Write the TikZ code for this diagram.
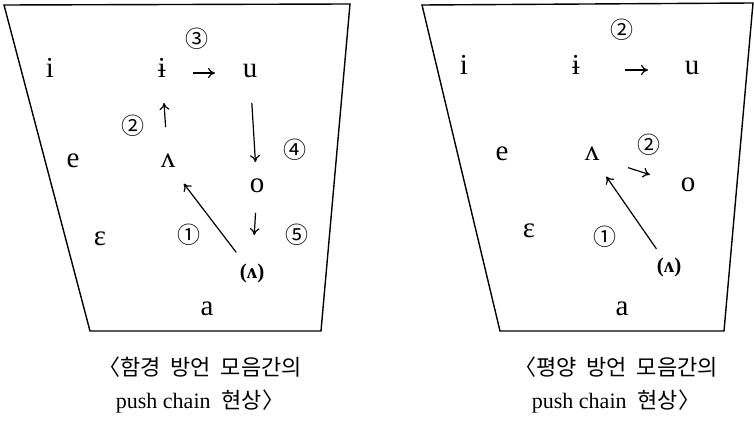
\documentclass[tikz,border=0pt]{standalone}
\usepackage{fontspec}
\setmainfont{Liberation Serif}
\newfontfamily\kor{Noto Sans CJK KR}
\newcommand{\kgap}{\hspace{0.45em}}
\usetikzlibrary{arrows.meta}
\tikzset{
  vowel/.style={inner sep=0pt,font=\fontsize{14.5}{16}\selectfont,%
    text height=1ex,text depth=0pt},
  sub/.style={inner sep=0pt,font=\fontsize{10.5}{12}\selectfont\bfseries},
  num/.style={inner sep=0pt,font=\kor\fontsize{11.5}{12}\selectfont},
  push/.style={-{To[length=3.5pt,width=5pt]},line width=0.6pt},
  chart/.style={line width=0.7pt,line join=miter},
  caption/.style={align=center,font=\fontsize{11}{16.5}\selectfont},
}

\begin{document}
\begin{tikzpicture}[x=0.5pt,y=-0.5pt]
\useasboundingbox (0,0) rectangle (754,422);
% Hamgyong
\draw[chart] (4,5) -- (350,4) -- (321,331) -- (90,331) -- cycle;
\node[vowel] (li) at (50,73) {i};
\node[vowel] (lihi) at (162,73) {ɨ};
\node[vowel] (lu) at (250,73) {u};
\node[vowel] (le) at (73,163) {e};
\node[vowel] (llam) at (168,163) {ʌ};
\node[vowel] (lo) at (257,188) {o};
\node[vowel] (leps) at (100,241) {ɛ};
\node[sub] (llamp) at (252,273) {(ʌ)};
\node[vowel] (la) at (207,311) {a};
\node[num] (l1) at (189,235) {①};
\node[num] (l2) at (133,126) {②};
\node[num] (l3) at (197,39) {③};
\node[num] (l4) at (295,150) {④};
\node[num] (l5) at (297,235) {⑤};
\draw[push,shorten <=13pt,shorten >=13pt] (llamp.center) -- (llam.center);
\draw[push,shorten <=18pt,shorten >=15pt] (llam.center) -- (lihi.center);
\draw[push,shorten <=15.5pt,shorten >=17.5pt] (lihi.center) -- (lu.center);
\draw[push,shorten <=15pt,shorten >=13pt] (lu.center) -- (lo.center);
\draw[push,shorten <=12.5pt,shorten >=19pt] (lo.center) -- (llamp.center);
\node[caption] (lcap) at (200,385)
  {{\kor 〈함경\kgap 방언\kgap 모음간의}\\push chain~~{\kor 현상〉}};
% Pyongyang
\draw[chart] (422,5) -- (753,3) -- (724,331) -- (500,331) -- cycle;
\node[vowel] (ri) at (464,70) {i};
\node[vowel] (rihi) at (576,70) {ɨ};
\node[vowel] (ru) at (692,70) {u};
\node[vowel] (re) at (502,156) {e};
\node[vowel] (rlam) at (592,156) {ʌ};
\node[vowel] (ro) at (688,187) {o};
\node[vowel] (reps) at (529,233) {ɛ};
\node[sub] (rlamp) at (669,267) {(ʌ)};
\node[vowel] (ra) at (622,311) {a};
\node[num] (r1) at (605,237) {①};
\node[num] (r2) at (649,145) {②};
\node[num] (r2top) at (622,30) {②};
\draw[push,shorten <=11pt,shorten >=12.5pt] (rlamp.center) -- (rlam.center);
\draw[push,shorten <=19pt,shorten >=20pt] (rlam.center) -- (ro.center);
\draw[push,shorten <=24.5pt,shorten >=22pt] (rihi.center) -- (ru.center);
\node[caption] (rcap) at (616,385)
  {{\kor 〈평양\kgap 방언\kgap 모음간의}\\push chain~~{\kor 현상〉}};
\end{tikzpicture}
\end{document}
